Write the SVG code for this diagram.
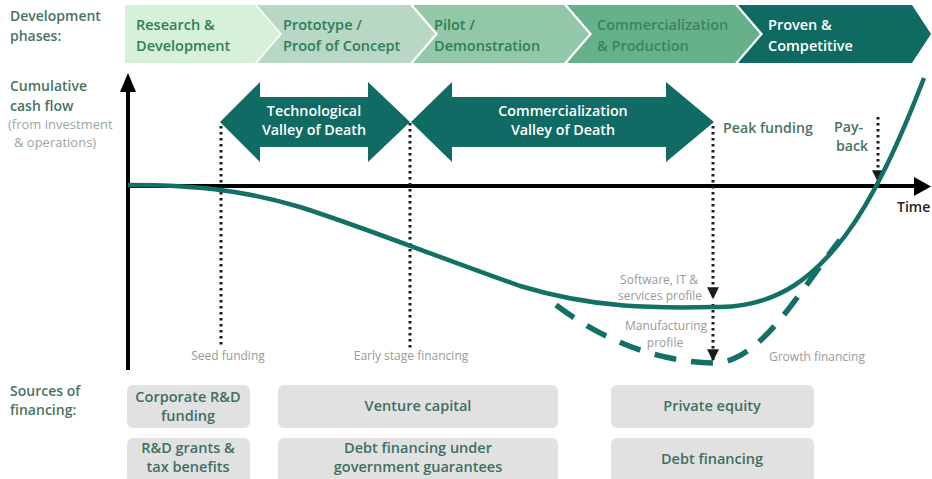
<svg xmlns="http://www.w3.org/2000/svg" width="932" height="479" viewBox="0 0 932 479">
<defs>
<style>
.lbl{font-family:"Open Sans","Noto Sans",sans-serif;font-weight:600;font-size:14px;fill:#4a7264}
.sub{font-family:"Open Sans","Noto Sans",sans-serif;font-size:13px;fill:#9aa6a1}
.ch{font-family:"Open Sans","Noto Sans",sans-serif;font-weight:600;font-size:14.5px;fill:#2f7d5a}
.chw{font-family:"Open Sans","Noto Sans",sans-serif;font-weight:600;font-size:14.5px;fill:#ffffff}
.aw{font-family:"Open Sans","Noto Sans",sans-serif;font-weight:600;font-size:14.3px;fill:#ffffff;text-anchor:middle}
.small{font-family:"Open Sans","Noto Sans",sans-serif;font-size:12px;fill:#9a9a9a;text-anchor:middle}
.box{fill:#e1e1e1}
.bt{font-family:"Open Sans","Noto Sans",sans-serif;font-weight:600;font-size:14.5px;fill:#3f6f61;text-anchor:middle}
.ann{font-family:"Open Sans","Noto Sans",sans-serif;font-weight:600;font-size:14.2px;fill:#4a7264}
.dot{stroke:#1a1a1a;stroke-width:3;stroke-dasharray:2.5 3.5;fill:none}
.teal{fill:#0f6b63}
</style>
<marker id="ah" viewBox="0 0 10 10" refX="9" refY="5" markerWidth="4" markerHeight="4" orient="auto">
<path d="M0,0 L10,5 L0,10 Z" fill="#1a1a1a"/>
</marker>
</defs>

<g id="labels">
<text class="lbl" x="10" y="21">Development</text>
<text class="lbl" x="10" y="41">phases:</text>
<text class="lbl" x="10" y="91">Cumulative</text>
<text class="lbl" x="10" y="111">cash flow</text>
<text class="sub" x="8" y="129">(from investment</text>
<text class="sub" x="14" y="147">&amp; operations)</text>
<text class="lbl" x="10" y="396">Sources of</text>
<text class="lbl" x="10" y="415">financing:</text>
</g>

<g id="phase1">
<path d="M125,5 L255,5 L280,34 L255,63 L125,63 Z" fill="#d6f1d7"/>
<text class="ch" x="136" y="30">Research &amp;</text>
<text class="ch" x="136" y="51">Development</text>
</g>
<g id="phase2">
<path d="M257,5 L410,5 L435,34 L410,63 L257,63 L282,34 Z" fill="#b8d7c5"/>
<text class="ch" x="283" y="30">Prototype /</text>
<text class="ch" x="283" y="51">Proof of Concept</text>
</g>
<g id="phase3">
<path d="M413,5 L564,5 L589,34 L564,63 L413,63 L438,34 Z" fill="#92c8a7"/>
<text class="ch" x="434" y="30">Pilot /</text>
<text class="ch" x="434" y="51">Demonstration</text>
</g>
<g id="phase4">
<path d="M567,5 L735,5 L760,34 L735,63 L567,63 L592,34 Z" fill="#66b18a"/>
<text class="ch" x="597" y="30" style="fill:#3a845f">Commercialization</text>
<text class="ch" x="597" y="51" style="fill:#3a845f">&amp; Production</text>
</g>
<g id="phase5">
<path d="M738,5 L912,5 L931,34 L912,63 L738,63 L763,34 Z" fill="#0f6b62"/>
<text class="chw" x="768" y="30">Proven &amp;</text>
<text class="chw" x="768" y="51">Competitive</text>
</g>

<g id="tech-valley">
<path d="M220,122 L260,82 L260,97 L368,97 L368,82 L410,122 L368,162 L368,147 L260,147 L260,162 Z" class="teal"/>
<text class="aw" x="314" y="116">Technological</text>
<text class="aw" x="314" y="135">Valley of Death</text>
</g>
<g id="comm-valley">
<path d="M411,122 L452,82 L452,97 L666,97 L666,82 L714,122 L666,162 L666,147 L452,147 L452,162 Z" class="teal"/>
<text class="aw" x="563" y="116">Commercialization</text>
<text class="aw" x="563" y="135">Valley of Death</text>
</g>

<g id="axes">
<line x1="128" y1="370" x2="128" y2="90" stroke="#000" stroke-width="4"/>
<path d="M120,92 L128,73 L136,92 Z" fill="#000"/>
<line x1="126" y1="186" x2="915" y2="186" stroke="#000" stroke-width="4"/>
<path d="M914,177 L931,186.5 L914,196 Z" fill="#000"/>
<text x="897" y="212" style="font-family:'Open Sans','Noto Sans',sans-serif;font-weight:600;font-size:14px;fill:#222">Time</text>
</g>

<g id="connectors">
<line class="dot" x1="221" y1="126" x2="221" y2="347"/>
<line class="dot" x1="410" y1="123" x2="410" y2="348"/>
<line class="dot" x1="713" y1="126" x2="713" y2="298" marker-end="url(#ah)"/>
<line class="dot" x1="713" y1="304" x2="713" y2="360" marker-end="url(#ah)"/>
<line class="dot" x1="878" y1="117" x2="878" y2="181" marker-end="url(#ah)"/>
<path d="M128,185 C190,185 240,189 300,207 C360,226 430,254 520,286 C600,310 660,308 720,307 C780,306 815,275 845,236 C875,196 900,140 924,78" fill="none" stroke="#127066" stroke-width="4.5"/>
<path d="M556,305 C605,342 660,362 713,363 C760,364 800,290 840,240" fill="none" stroke="#127066" stroke-width="5.5" stroke-dasharray="22 15"/>
</g>

<g id="annotations">
<text class="ann" x="723" y="133">Peak funding</text>
<text class="ann" x="834" y="132">Pay-</text>
<text class="ann" x="836" y="151">back</text>
<text class="small" x="228" y="360">Seed funding</text>
<text class="small" x="411" y="360">Early stage financing</text>
<text class="small" x="817" y="361">Growth financing</text>
<text class="small" x="659" y="284">Software, IT &amp;</text>
<text class="small" x="660" y="300">services profile</text>
<text class="small" x="666" y="330">Manufacturing</text>
<text class="small" x="665" y="347">profile</text>
</g>

<g id="src-corporate">
<rect class="box" x="127" y="385" width="123" height="43" rx="6"/>
<text class="bt" x="188" y="402">Corporate R&amp;D</text>
<text class="bt" x="188" y="421">funding</text>
</g>
<g id="src-grants">
<rect class="box" x="127" y="438" width="123" height="45" rx="6"/>
<text class="bt" x="188" y="453">R&amp;D grants &amp;</text>
<text class="bt" x="188" y="472">tax benefits</text>
</g>
<g id="src-vc">
<rect class="box" x="278" y="385" width="280" height="43" rx="6"/>
<text class="bt" x="418" y="411">Venture capital</text>
</g>
<g id="src-debt-gov">
<rect class="box" x="278" y="438" width="280" height="45" rx="6"/>
<text class="bt" x="418" y="453">Debt financing under</text>
<text class="bt" x="418" y="472">government guarantees</text>
</g>
<g id="src-pe">
<rect class="box" x="611" y="385" width="203" height="43" rx="6"/>
<text class="bt" x="712" y="411">Private equity</text>
</g>
<g id="src-debt">
<rect class="box" x="611" y="438" width="203" height="45" rx="6"/>
<text class="bt" x="712" y="464">Debt financing</text>
</g>
</svg>
